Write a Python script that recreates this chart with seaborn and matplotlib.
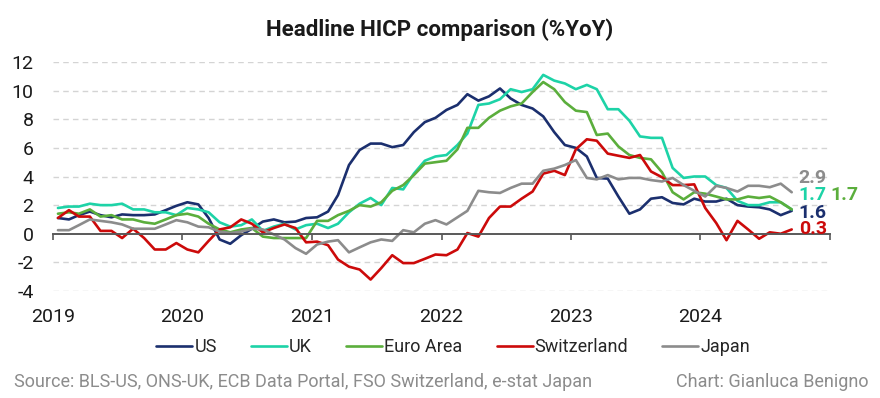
import numpy as np
import pandas as pd
import matplotlib
matplotlib.use('Agg')
import matplotlib.pyplot as plt
import seaborn as sns

# monthly HICP %YoY, Jan 2019 .. Sep 2024
us = [1.1, 1.0, 1.3, 1.55, 1.3, 1.15, 1.35, 1.3, 1.3, 1.35, 1.65, 1.95,
      2.2, 2.05, 1.1, -0.4, -0.7, -0.1, 0.35, 0.85, 1.0, 0.8, 0.85, 1.1,
      1.15, 1.55, 2.7, 4.8, 5.85, 6.3, 6.3, 6.05, 6.2, 7.1, 7.8, 8.1,
      8.65, 9.0, 9.75, 9.3, 9.6, 10.15, 9.45, 9.0, 8.75, 8.2, 7.1, 6.2,
      6.0, 5.4, 3.9, 3.85, 2.6, 1.4, 1.7, 2.45, 2.55, 2.15, 2.05, 2.45,
      2.25, 2.25, 2.45, 2.0, 1.9, 1.85, 1.7, 1.3, 1.6]
uk = [1.8, 1.9, 1.9, 2.1, 2.0, 2.0, 2.1, 1.7, 1.7, 1.5, 1.5, 1.3,
      1.8, 1.7, 1.5, 0.8, 0.5, 0.6, 1.0, 0.2, 0.5, 0.7, 0.3, 0.6,
      0.7, 0.4, 0.7, 1.5, 2.1, 2.5, 2.0, 3.2, 3.1, 4.2, 5.1, 5.4,
      5.5, 6.2, 7.0, 9.0, 9.1, 9.4, 10.1, 9.9, 10.1, 11.1, 10.7, 10.5,
      10.1, 10.4, 10.1, 8.7, 8.7, 7.9, 6.8, 6.7, 6.7, 4.6, 3.9, 4.0,
      4.0, 3.4, 3.2, 2.3, 2.0, 2.0, 2.2, 2.2, 1.7]
euro = [1.4, 1.5, 1.4, 1.7, 1.2, 1.3, 1.0, 1.0, 0.8, 0.7, 1.0, 1.3,
        1.4, 1.2, 0.7, 0.3, 0.1, 0.3, 0.4, -0.2, -0.3, -0.3, -0.3, -0.3,
        0.9, 0.9, 1.3, 1.6, 2.0, 1.9, 2.2, 3.0, 3.4, 4.1, 4.9, 5.0,
        5.1, 5.9, 7.4, 7.4, 8.1, 8.6, 8.9, 9.1, 9.9, 10.6, 10.1, 9.2,
        8.6, 8.5, 6.9, 7.0, 6.1, 5.5, 5.3, 5.2, 4.3, 2.9, 2.4, 2.9,
        2.8, 2.6, 2.4, 2.4, 2.6, 2.5, 2.6, 2.2, 1.7]
swiss = [1.1, 1.65, 1.2, 1.2, 0.2, 0.2, -0.3, 0.35, -0.3, -1.1, -1.1, -0.65,
         -1.1, -1.3, -0.5, 0.3, 0.45, 1.0, 0.7, 0.1, 0.4, 0.65, 0.4, -0.6,
         -0.55, -0.8, -1.8, -2.3, -2.5, -3.2, -2.4, -1.5, -2.05, -2.05, -1.75, -1.45,
         -1.5, -1.1, 0.05, -0.2, 1.1, 1.9, 1.9, 2.45, 2.95, 4.2, 4.4, 4.1,
         5.9, 6.6, 6.5, 5.6, 5.45, 5.3, 5.5, 4.35, 3.95, 3.4, 3.4, 3.45,
         1.8, 0.75, -0.45, 0.9, 0.3, -0.35, 0.1, 0.0, 0.3]
japan = [0.25, 0.25, 0.6, 1.0, 0.9, 0.8, 0.65, 0.35, 0.35, 0.35, 0.65, 0.95,
         0.8, 0.5, 0.45, 0.15, 0.05, 0.15, 0.35, 0.3, -0.05, -0.4, -1.0, -1.4,
         -0.75, -0.55, -0.45, -1.3, -0.95, -0.6, -0.4, -0.5, 0.25, 0.1, 0.7, 0.95,
         0.65, 1.15, 1.6, 3.0, 2.9, 2.85, 3.2, 3.5, 3.5, 4.4, 4.55, 4.8,
         5.15, 3.9, 3.8, 4.1, 3.8, 3.9, 3.9, 3.75, 3.65, 3.9, 3.4, 3.0,
         2.6, 3.35, 3.2, 2.95, 3.35, 3.35, 3.25, 3.5, 2.9]

countries = ['US', 'UK', 'Euro Area', 'Switzerland', 'Japan']
colors = ['#1B2F6E', '#1DD3A7', '#5BAE3C', '#CC0A0A', '#8C8C8C']
end_labels = ['1.6', '1.7', '1.7', '0.3', '2.9']
year_labels = ['2019', '2020', '2021', '2022', '2023', '2024']

dates = pd.date_range('2019-01-01', periods=len(us), freq='MS') + pd.Timedelta(days=14)
df = pd.DataFrame({'US': us, 'UK': uk, 'Euro Area': euro,
                   'Switzerland': swiss, 'Japan': japan}, index=dates)
long = df.reset_index(names='date').melt(id_vars='date', var_name='Country', value_name='yoy')

sns.set_style('white')
plt.rcParams['font.family'] = ['Roboto', 'DejaVu Sans']
plt.rcParams['axes.unicode_minus'] = False

fig = plt.figure(figsize=(8.8, 3.98), dpi=100)
ax = fig.add_axes([53 / 880, 1 - 291 / 398, (830 - 53) / 880, (291 - 62) / 398])

sns.lineplot(data=long, x='date', y='yoy', hue='Country', hue_order=countries,
             palette=dict(zip(countries, colors)), linewidth=1.9, ax=ax, legend=True)
handles, labels = ax.get_legend_handles_labels()
ax.get_legend().remove()

ax.set_xlim(pd.Timestamp('2019-01-01'), pd.Timestamp('2025-01-01'))
ax.set_ylim(-4, 12)
ax.set_yticks(np.arange(-4, 13, 2))
ax.set_xlabel('')
ax.set_ylabel('')
for y in ax.get_yticks():
    if y != 0:
        ax.axhline(y, color='#D4D4D4', lw=1, ls=(0, (4, 3)), zorder=0)

for s in ['left', 'right', 'top']:
    ax.spines[s].set_visible(False)
ax.spines['bottom'].set_position(('data', 0))
ax.spines['bottom'].set_color('#595959')
ax.spines['bottom'].set_linewidth(1.4)
ax.set_xticks([pd.Timestamp(f'{y}-01-01') for y in range(2019, 2026)])
ax.tick_params(axis='x', direction='out', length=4, width=1.2, color='#595959',
               labelbottom=False, bottom=True)
ax.tick_params(axis='y', length=0, pad=14, labelsize=14, labelcolor='#1a1a1a')

sec = ax.secondary_xaxis('bottom')
sec.set_xticks([pd.Timestamp(f'{y}-01-01') for y in year_labels], labels=year_labels)
sec.spines['bottom'].set_visible(False)
sec.tick_params(length=0, pad=12, labelsize=14, labelcolor='#1a1a1a')

# end-of-line value labels
last = dates[-1]
offsets = {'US': (5, -1.5), 'UK': (5, 10.5), 'Euro Area': (28, 10.5),
           'Switzerland': (5, 0), 'Japan': (5, 10)}
for c, col, lab in zip(countries, colors, end_labels):
    ax.annotate(lab, (last, df[c].iloc[-1]), xytext=offsets[c], textcoords='offset points',
                color=col, fontsize=14, fontweight='bold', va='center', ha='left',
                annotation_clip=False)

fig.suptitle('Headline HICP comparison (%YoY)', x=0.5, y=1 - 30 / 398, va='center',
             fontsize=16, fontweight='bold', color='#1a1a1a')
fig.legend(handles, labels, loc='center', bbox_to_anchor=(0.515, 1 - 347 / 398), ncol=5,
           frameon=False, fontsize=13, handlelength=2.0, handletextpad=0.1,
           columnspacing=1.9)
fig.text(14 / 880, 1 - 382 / 398, 'Source: BLS-US, ONS-UK, ECB Data Portal, FSO Switzerland, e-stat Japan',
         color='#8C8C8C', fontsize=13, va='center', ha='left')
fig.text(868 / 880, 1 - 382 / 398, 'Chart: Gianluca Benigno', color='#8C8C8C',
         fontsize=13, va='center', ha='right')

fig.savefig('out.png', dpi=100)
